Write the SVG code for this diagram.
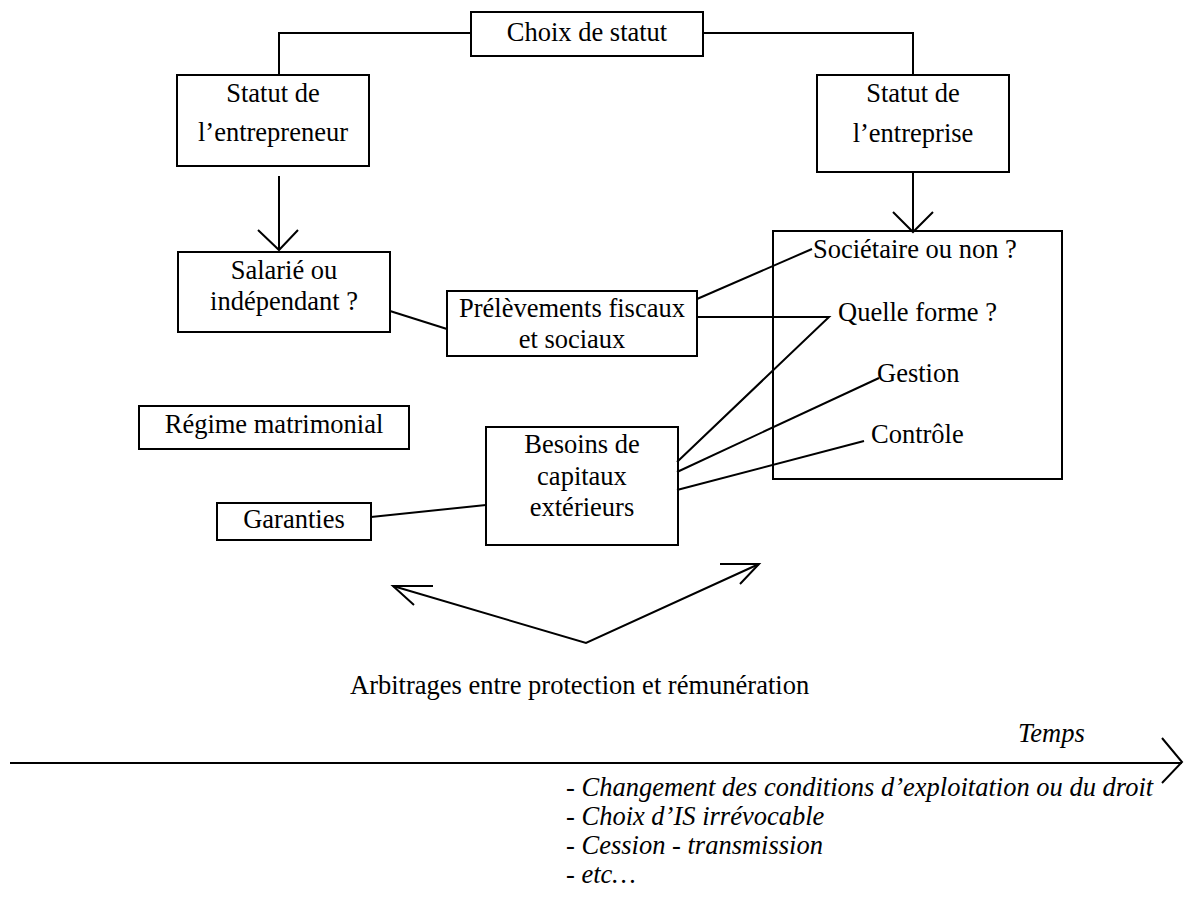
<svg xmlns="http://www.w3.org/2000/svg" width="1188" height="903" viewBox="0 0 1188 903">
<style>
.box{fill:#fff;stroke:#000;stroke-width:2}
.open{fill:none}
.ln{fill:none;stroke:#000;stroke-width:2;stroke-linejoin:miter}
.t{font-family:"Liberation Serif","Times New Roman",serif;font-size:26.5px;fill:#000}
.c{text-anchor:middle}
.i{font-style:italic}
</style>
<rect width="1188" height="903" fill="#fff"/>
<g id="choix">
<rect class="box" x="471" y="12" width="232" height="44"/>
<text class="t c" x="587" y="41">Choix de statut</text>
</g>
<g id="entrepreneur">
<rect class="box" x="177" y="75" width="192" height="91"/>
<text class="t c" x="273" y="102">Statut de</text>
<text class="t c" x="273" y="141">l’entrepreneur</text>
</g>
<g id="entreprise">
<rect class="box" x="817" y="75" width="192" height="97"/>
<text class="t c" x="913" y="102">Statut de</text>
<text class="t c" x="913" y="142">l’entreprise</text>
</g>
<g id="salarie">
<rect class="box" x="178" y="252" width="212" height="80"/>
<text class="t c" x="284" y="279">Salarié ou</text>
<text class="t c" x="284" y="310">indépendant ?</text>
</g>
<g id="prelevements">
<rect class="box" x="447" y="291" width="250" height="65"/>
<text class="t c" x="572" y="317">Prélèvements fiscaux</text>
<text class="t c" x="572" y="348">et sociaux</text>
</g>
<g id="forme">
<rect class="box open" x="773" y="231" width="289" height="248"/>
<text class="t" x="813" y="258">Sociétaire ou non ?</text>
<text class="t" x="838" y="321">Quelle forme ?</text>
<text class="t" x="877" y="382">Gestion</text>
<text class="t" x="871" y="443">Contrôle</text>
</g>
<g id="regime">
<rect class="box" x="139" y="406" width="270" height="43"/>
<text class="t c" x="274" y="433">Régime matrimonial</text>
</g>
<g id="garanties">
<rect class="box" x="217" y="503" width="154" height="37"/>
<text class="t c" x="294" y="528">Garanties</text>
</g>
<g id="besoins">
<rect class="box" x="486" y="427" width="192" height="118"/>
<text class="t c" x="582" y="453">Besoins de</text>
<text class="t c" x="582" y="485">capitaux</text>
<text class="t c" x="582" y="516">extérieurs</text>
</g>
<g id="arbitrages">
<text class="t" x="350" y="694">Arbitrages entre protection et rémunération</text>
</g>
<g id="temps">
<text class="t i" x="1018" y="742">Temps</text>
<text class="t i" x="566" y="796">- Changement des conditions d’exploitation ou du droit</text>
<text class="t i" x="566" y="825">- Choix d’IS irrévocable</text>
<text class="t i" x="566" y="854">- Cession - transmission</text>
<text class="t i" x="566" y="883">- etc…</text>
</g>
<g id="connectors">
<polyline class="ln" points="471,33 279,33 279,75"/>
<polyline class="ln" points="703,33 913,33 913,75"/>
<line class="ln" x1="279" y1="176" x2="279" y2="249"/>
<polyline class="ln" points="258,230 279,250 298,230"/>
<line class="ln" x1="913" y1="172" x2="913" y2="231"/>
<polyline class="ln" points="893,212 913,232 933,212"/>
<line class="ln" x1="390" y1="311" x2="447" y2="329"/>
<line class="ln" x1="697" y1="299" x2="812" y2="249"/>
<polyline class="ln" points="697,317 829,317 677,462"/>
<line class="ln" x1="677" y1="472" x2="879" y2="378"/>
<line class="ln" x1="677" y1="490" x2="864" y2="441"/>
<line class="ln" x1="371" y1="517" x2="486" y2="505"/>
<polyline class="ln" points="393,586 586,643 759,564"/>
<polyline class="ln" points="433,586 393,586 414,605"/>
<polyline class="ln" points="720,564 759,564 740,584"/>
<line class="ln" x1="10" y1="763" x2="1182" y2="763" stroke-width="3"/>
<polyline class="ln" points="1162,738 1182,762 1162,783"/>
</g>
</svg>
